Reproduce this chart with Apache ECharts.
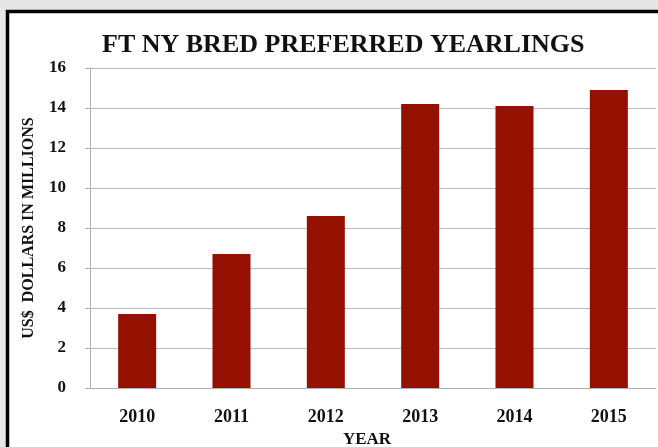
<!DOCTYPE html>
<html>
<head>
<meta charset="utf-8">
<script src="https://cdn.jsdelivr.net/npm/echarts@6/dist/echarts.min.js"></script>
<style>
html,body{margin:0;padding:0;background:#e6e6e6;}
#chart{width:658px;height:447px;}
</style>
</head>
<body>
<div id="chart"></div>
<script>
const titleText = 'FT NY BRED PREFERRED YEARLINGS';
const years = ['2010', '2011', '2012', '2013', '2014', '2015'];
const values = [3.7, 6.7, 8.6, 14.2, 14.1, 14.9];
const yAxisName = 'US$  DOLLARS IN MILLIONS';
const xAxisName = 'YEAR';

const chart = echarts.init(document.getElementById('chart'), null, {renderer: 'canvas'});
const serif = '"Liberation Serif", "Times New Roman", serif';
chart.setOption({
  backgroundColor: '#e6e6e6',
  animation: false,
  graphic: [{
    type: 'rect',
    z: -10,
    shape: {x: 7.5, y: 11.5, width: 700, height: 500},
    style: {fill: '#ffffff', stroke: '#000000', lineWidth: 3.5}
  }],
  title: {
    text: titleText,
    left: 97,
    top: 27,
    textStyle: {fontFamily: serif, fontWeight: 'bold', fontSize: 26, color: '#111'}
  },
  grid: {left: 90, right: 2, top: 68, bottom: 59, containLabel: false, outerBoundsMode: 'none'},
  xAxis: {
    type: 'category',
    data: years,
    name: xAxisName,
    nameLocation: 'middle',
    nameGap: 43,
    nameTextStyle: {fontFamily: serif, fontWeight: 'bold', fontSize: 17, color: '#111', padding: [0, 12, 0, 0]},
    axisLine: {lineStyle: {color: '#b0b0b0', width: 1}},
    axisTick: {show: false},
    axisLabel: {fontFamily: serif, fontWeight: 'bold', fontSize: 18, color: '#111', margin: 20}
  },
  yAxis: {
    type: 'value',
    min: 0,
    max: 16,
    interval: 2,
    name: yAxisName,
    nameLocation: 'middle',
    nameRotate: 90,
    nameGap: 53,
    nameTextStyle: {fontFamily: serif, fontWeight: 'bold', fontSize: 16, color: '#111'},
    axisLine: {show: true, lineStyle: {color: '#b0b0b0', width: 1}},
    axisTick: {show: true, length: 5, lineStyle: {color: '#b0b0b0'}},
    axisLabel: {fontFamily: serif, fontWeight: 'bold', fontSize: 17, color: '#111', margin: 24},
    splitLine: {lineStyle: {color: '#bcbcbc', width: 1}}
  },
  series: [{
    type: 'bar',
    data: values,
    barWidth: 38,
    itemStyle: {color: '#941100'}
  }]
});
</script>
</body>
</html>
